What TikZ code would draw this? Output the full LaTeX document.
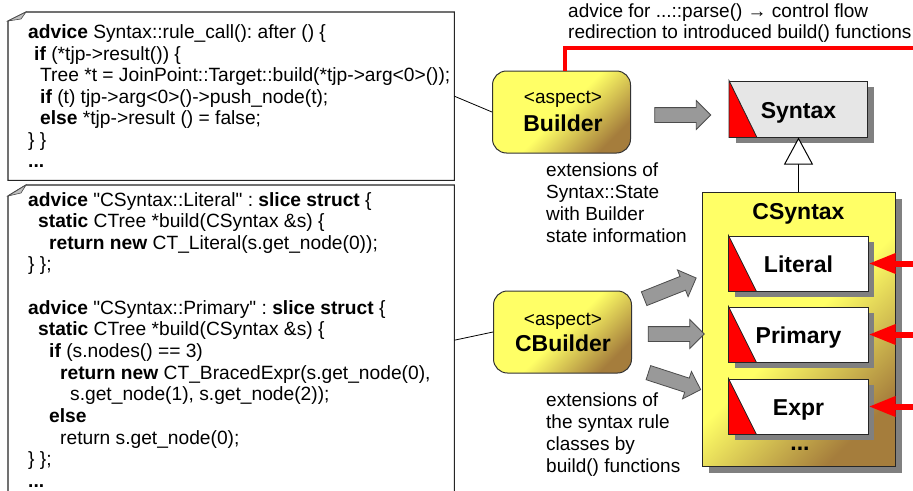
\documentclass[tikz,border=0pt]{standalone}
\usepackage{fontspec}
\setmainfont{Liberation Sans}
\newfontfamily\codefont{Liberation Sans}
\usetikzlibrary{arrows.meta,shapes.arrows,shadows,calc}
\definecolor{yel}{RGB}{255,255,102}
\definecolor{brn}{RGB}{165,125,60}
\definecolor{synfill}{RGB}{230,230,230}
\definecolor{arrg}{RGB}{153,153,153}
\definecolor{shd}{RGB}{128,128,128}
\frenchspacing
\begin{document}
\frenchspacing
\begin{tikzpicture}[x=1pt,y=-1pt,
  code/.style={anchor=base west, inner sep=0pt, font=\codefont\fontsize{19.2}{22}\selectfont},
  txt/.style={anchor=base west, inner sep=0pt, font=\fontsize{19}{22}\selectfont},
  ctxt/.style={anchor=base, inner sep=0pt, font=\fontsize{19}{22}\selectfont},
  btxt/.style={anchor=base, inner sep=0pt, font=\bfseries\fontsize{23}{26}\selectfont},
  cbox/.style={draw=black!85, line width=1.1pt},
  flap/.style={fill=black!25, draw=black!70, line width=0.6pt},
  aspectbox/.style={draw=black!80, line width=1pt, rounded corners=14pt,
    top color=yel, bottom color=brn, middle color=yel, shading angle=45,
    minimum width=138pt, minimum height=82pt, inner sep=0pt},
  clsbox/.style={draw=black!85, line width=1pt, fill=white, minimum width=139pt,
    minimum height=55pt, inner sep=0pt, text height=18pt, text depth=0pt,
    font=\bfseries\fontsize{23}{26}\selectfont,
    drop shadow={shadow xshift=6pt, shadow yshift=-6pt, fill=shd, opacity=1}},
  redtri/.style={fill=red, draw=black!85, line width=0.8pt},
  blk/.style={single arrow, draw=black!70, fill=arrg, minimum height=56pt,
    minimum width=28pt, single arrow head extend=7pt, inner xsep=0pt, inner ysep=7pt,
    line width=0.8pt},
  redarr/.style={red, line width=6pt, -{Triangle[length=27pt, width=19pt]}}
]
\path[use as bounding box, fill=white] (0,0) rectangle (913,490);

% ---------- code box 1 ----------
\node[minimum width=446pt, minimum height=168pt, inner sep=0pt, anchor=north west] (cb1) at (8,12) {};
\draw[cbox] ([xshift=18pt]cb1.north west) -- (cb1.north east) -- (cb1.south east)
  -- (cb1.south west) -- ([yshift=-9pt]cb1.north west) -- cycle;
\filldraw[flap] ([yshift=-9pt]cb1.north west) -- ([xshift=18pt]cb1.north west)
  -- ([xshift=13pt,yshift=-7pt]cb1.north west) -- cycle;
\node[code] (a1) at (28,38.5) {\textbf{advice} Syntax::rule\_call(): after () \{};
\node[code] (a2) at (34,60) {\textbf{if} (*tjp->result()) \{};
\node[code] (a3) at (40,81.5) {Tree *t = JoinPoint::Target::build(*tjp->arg<0>());};
\node[code] (a4) at (40,103) {\textbf{if} (t) tjp->arg<0>()->push\_node(t);};
\node[code] (a5) at (40,124.5) {\textbf{else} *tjp->result () = false;};
\node[code] (a6) at (28,146) {\} \}};
\node[code] (a7) at (28,167.5) {\textbf{...}};

% ---------- code box 2 ----------
\node[minimum width=446pt, minimum height=310pt, inner sep=0pt, anchor=north west] (cb2) at (8,185) {};
\draw[cbox] ([xshift=18pt]cb2.north west) -- (cb2.north east) -- (cb2.south east)
  -- (cb2.south west) -- ([yshift=-11pt]cb2.north west) -- cycle;
\filldraw[flap] ([yshift=-11pt]cb2.north west) -- ([xshift=18pt]cb2.north west)
  -- ([xshift=13pt,yshift=-8pt]cb2.north west) -- cycle;
\node[code] (b1) at (28,206) {\textbf{advice} "CSyntax::Literal" : \textbf{slice struct} \{};
\node[code] (b2) at (38,227.65) {\textbf{static} CTree *build(CSyntax \&s) \{};
\node[code] (b3) at (49,249.3) {\textbf{return new} CT\_Literal(s.get\_node(0));};
\node[code] (b4) at (28,270.95) {\} \};};
\node[code] (b6) at (28,314.25) {\textbf{advice} "CSyntax::Primary" : \textbf{slice struct} \{};
\node[code] (b7) at (38,335.9) {\textbf{static} CTree *build(CSyntax \&s) \{};
\node[code] (b8) at (49,357.55) {\textbf{if} (s.nodes() == 3)};
\node[code] (b9) at (60,379.2) {\textbf{return new} CT\_BracedExpr(s.get\_node(0),};
\node[code] (b10) at (70,400.85) {s.get\_node(1), s.get\_node(2));};
\node[code] (b11) at (49,422.5) {\textbf{else}};
\node[code] (b12) at (60,444.15) {return s.get\_node(0);};
\node[code] (b13) at (28,465.8) {\} \};};
\node[code] (b14) at (28,487.45) {\textbf{...}};

% ---------- aspects ----------
\node[aspectbox] (bld) at (561.5,112) {};
\node[ctxt] (bldA) at (563,103) {<aspect>};
\node[btxt] (bldB) at (563,131) {Builder};
\node[aspectbox] (cbld) at (562.5,332) {};
\node[ctxt] (cbldA) at (563,325) {<aspect>};
\node[btxt] (cbldB) at (563,351) {CBuilder};

\draw[line width=0.8pt] (cb1.east) -- (bld.west);
\draw[line width=0.8pt] (cb2.east) -- (cbld.west);

% ---------- Syntax ----------
\node[clsbox, fill=synfill, minimum width=138pt, minimum height=56pt] (syn) at (798.5,109) {Syntax};
\filldraw[redtri] (syn.north west) -- (syn.south west) -- ([xshift=28pt]syn.south west) -- cycle;

% ---------- CSyntax ----------
\node[draw=black!85, line width=1pt, minimum width=193pt, minimum height=274pt, inner sep=0pt,
  top color=yel, bottom color=brn, middle color=yel, shading angle=45,
  drop shadow={shadow xshift=7pt, shadow yshift=-7pt, fill=shd, opacity=1}] (csyn) at (798.5,329) {};
\node[btxt] (csynT) at (798.5,219) {CSyntax};
\node[clsbox] (lit) at (798.5,263.5) {Literal};
\filldraw[redtri] (lit.north west) -- (lit.south west) -- ([xshift=28pt]lit.south west) -- cycle;
\node[clsbox] (pri) at (798.5,334.5) {Primary};
\filldraw[redtri] (pri.north west) -- (pri.south west) -- ([xshift=28pt]pri.south west) -- cycle;
\node[clsbox] (expr) at (798.5,406.5) {Expr};
\filldraw[redtri] (expr.north west) -- (expr.south west) -- ([xshift=28pt]expr.south west) -- cycle;
\node[btxt] (dots) at (800,450) {...};

% inheritance
\draw[line width=1pt, -{Triangle[open, fill=white, length=27pt, width=29pt]}] (csyn.north) -- (syn.south);

% ---------- block arrows ----------
\node[blk] (ar0) at (679,115) {};
\node[blk, rotate=21.7] (ar1) at (666.7,289.7) {};
\node[blk] (ar2) at (672.5,334) {};
\node[blk, rotate=-18, minimum height=55pt] (ar3) at (671,380) {};

% ---------- red connectors ----------
\coordinate (tr) at (913,48);
\coordinate (redge) at (913,0);
\draw[red, line width=4.5pt] ([xshift=3.5pt]bld.north) |- (tr);
\draw[redarr] (lit.east -| redge) -- (lit.east);
\draw[redarr] (pri.east -| redge) -- (pri.east);
\draw[redarr] (expr.east -| redge) -- (expr.east);

% ---------- annotations ----------
\node[txt] (t1) at (568,17) {advice for ...::parse() → control flow};
\node[txt] (t2) at (568,38.5) {redirection to introduced build() functions};
\node[txt] (e1) at (546,176) {extensions of};
\node[txt] (e2) at (546,198) {Syntax::State};
\node[txt] (e3) at (546,220) {with Builder};
\node[txt] (e4) at (546,242) {state information};
\node[txt] (f1) at (546,406) {extensions of};
\node[txt] (f2) at (546,428) {the syntax rule};
\node[txt] (f3) at (546,450) {classes by};
\node[txt] (f4) at (546,472) {build() functions};
\end{tikzpicture}
\end{document}
